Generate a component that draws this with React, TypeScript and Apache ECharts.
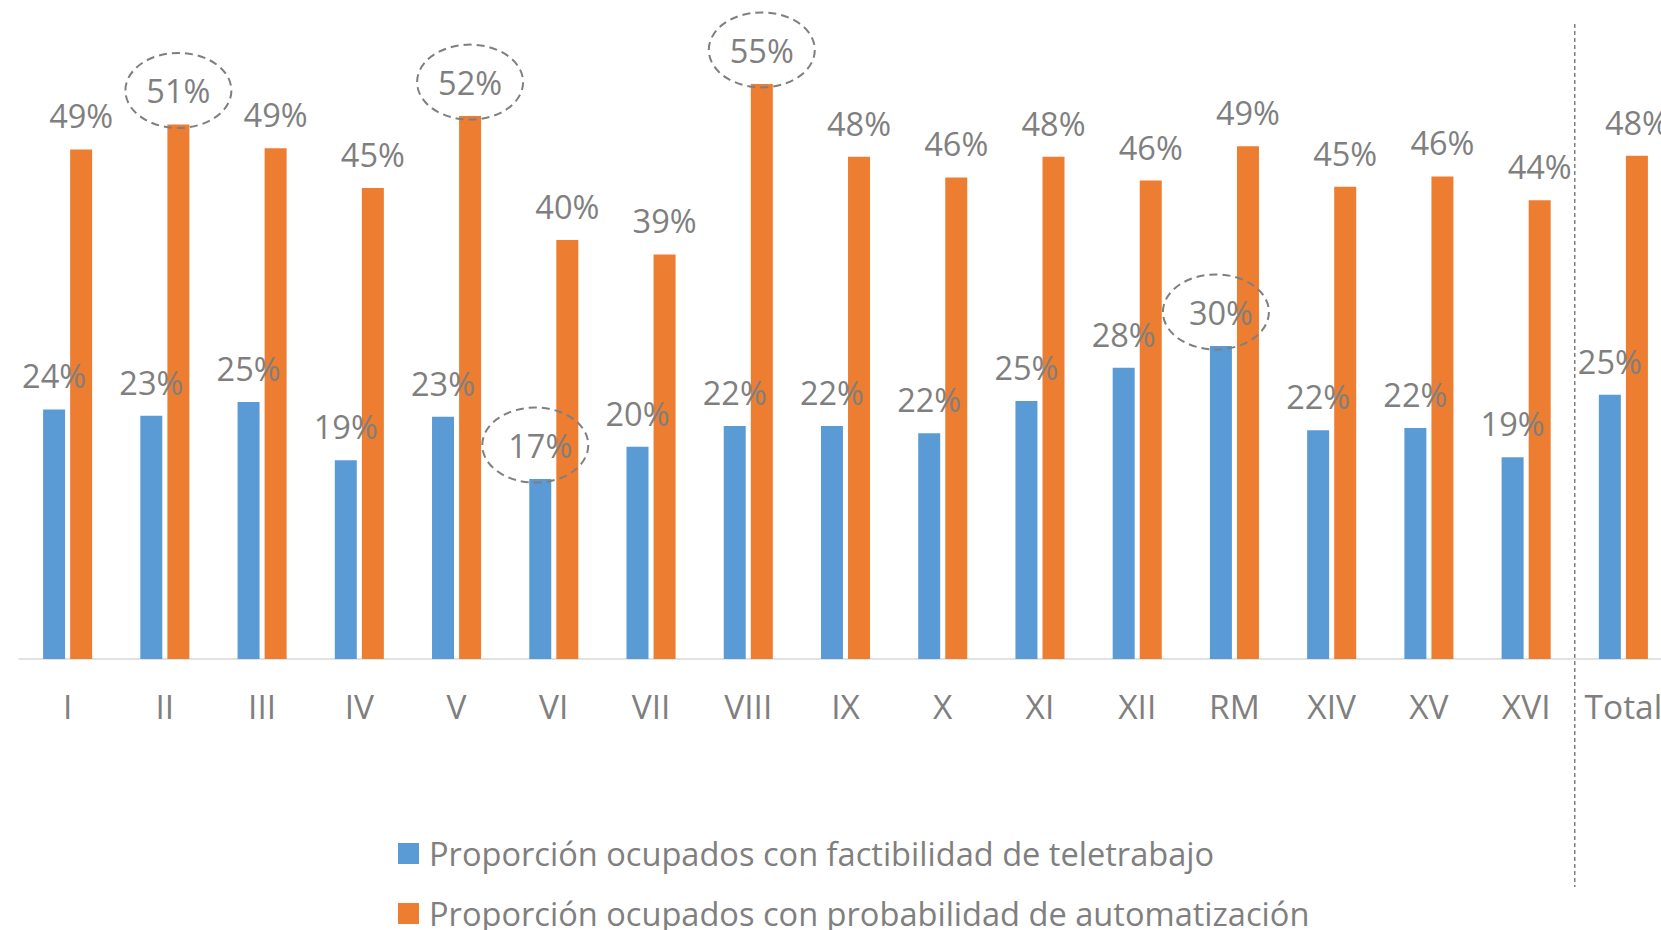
import React, { useEffect, useRef } from "react";
import * as echarts from "echarts";

const categories = ["I", "II", "III", "IV", "V", "VI", "VII", "VIII", "IX", "X", "XI", "XII", "RM", "XIV", "XV", "XVI", "Total"];
const teletrabajo = [24.0, 23.4, 24.7, 19.1, 23.3, 17.3, 20.4, 22.4, 22.4, 21.7, 24.8, 28.0, 30.1, 22.0, 22.2, 19.4, 25.4];
const automatizacion = [49.0, 51.4, 49.1, 45.3, 52.2, 40.3, 38.9, 55.3, 48.3, 46.3, 48.3, 46.0, 49.3, 45.4, 46.4, 44.1, 48.4];
const seriesNames = [
  "Proporción ocupados con factibilidad de teletrabajo",
  "Proporción ocupados con probabilidad de automatización",
];
const circledTeletrabajo = [5, 12];
const circledAutomatizacion = [1, 4, 7];
const separatorAfterIndex = 15;

const BLUE = "#5B9BD5";
const ORANGE = "#ED7D31";
const TEXT = "#7F7F7F";
const FONT = "'Open Sans', sans-serif";
const BAR_W = 22;
const GAP = 0.23;

export default function App() {
  const ref = useRef<HTMLDivElement>(null);
  useEffect(() => {
    if (!ref.current) return;
    const chart = echarts.init(ref.current, null, { renderer: "svg" });
    const label = {
      show: true,
      position: "top",
      distance: 17,
      color: TEXT,
      fontSize: 32.5,
      fontFamily: FONT,
      formatter: (p: any) => Math.round(p.value) + "%",
    };
    const legendBase = {
      orient: "vertical",
      left: 398,
      itemWidth: 21,
      itemHeight: 21,
      padding: 0,
      icon: "rect",
      textStyle: { color: TEXT, fontSize: 32.6, fontFamily: FONT, padding: [0, 0, 0, 5] },
    };
    chart.setOption({
      animation: false,
      textStyle: { fontFamily: FONT },
      grid: { left: 19, right: 0, top: 35, bottom: 271, containLabel: false },
      xAxis: {
        type: "category",
        data: categories,
        axisLine: { lineStyle: { color: "#D9D9D9", width: 1.5 } },
        axisTick: { length: 12, lineStyle: { color: "#D9D9D9", width: 1.5 } },
        axisLabel: { color: TEXT, fontSize: 33.5, margin: 30, interval: 0, fontFamily: FONT },
      },
      yAxis: { type: "value", min: 0, max: 60, show: false },
      legend: [
        { ...legendBase, top: 837, data: [seriesNames[0]] },
        { ...legendBase, top: 897, data: [seriesNames[1]] },
      ],
      series: [
        {
          name: seriesNames[0],
          type: "bar",
          data: teletrabajo,
          barWidth: BAR_W,
          barGap: GAP * 100 + "%",
          itemStyle: { color: BLUE },
          label,
        },
        {
          name: seriesNames[1],
          type: "bar",
          data: automatizacion,
          barWidth: BAR_W,
          barGap: GAP * 100 + "%",
          itemStyle: { color: ORANGE },
          label,
        },
      ],
    });

    const off = (BAR_W + BAR_W * GAP) / 2;
    const graphics: any[] = [];
    const addEllipse = (idx: number, val: number, dx: number) => {
      const [x, y] = chart.convertToPixel({ gridIndex: 0 }, [idx, val]) as number[];
      graphics.push({
        type: "ellipse",
        z: 10,
        shape: { cx: x + dx, cy: y - 34, rx: 53, ry: 37.5 },
        style: { fill: "none", stroke: TEXT, lineWidth: 2, lineDash: [8, 5] },
      });
    };
    circledTeletrabajo.forEach((i) => addEllipse(i, teletrabajo[i], -off - 5));
    circledAutomatizacion.forEach((i) => addEllipse(i, automatizacion[i], off));
    const xa = (chart.convertToPixel({ gridIndex: 0 }, [separatorAfterIndex, 0]) as number[])[0];
    const xb = (chart.convertToPixel({ gridIndex: 0 }, [separatorAfterIndex + 1, 0]) as number[])[0];
    const sx = (xa + xb) / 2;
    graphics.push({
      type: "line",
      z: 10,
      shape: { x1: sx, y1: 24, x2: sx, y2: 887 },
      style: { stroke: "#808080", lineWidth: 1.5, lineDash: [4, 3] },
    });
    chart.setOption({ graphic: graphics });

    return () => chart.dispose();
  }, []);
  return (
    <div style={{ position: "absolute", left: 0, top: 0, width: 1661, height: 930, background: "#fff", overflow: "hidden" }}>
      <div ref={ref} style={{ position: "absolute", left: 0, top: 0, width: 1672, height: 930 }} />
    </div>
  );
}
